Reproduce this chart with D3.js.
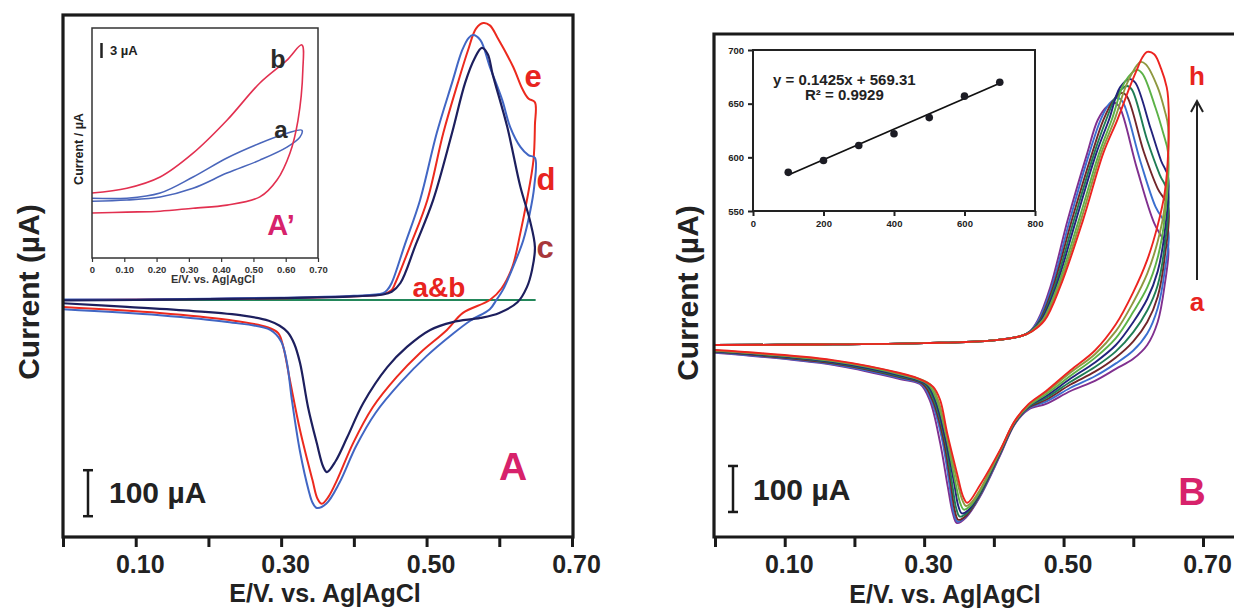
<!DOCTYPE html>
<html><head><meta charset="utf-8">
<script src="https://cdn.jsdelivr.net/npm/d3@7"></script>
<style>
body{margin:0;background:#fff}
svg{display:block}
text{font-family:"Liberation Sans",Arial,sans-serif;font-weight:bold}
</style>
</head><body>
<svg id="c" width="1234" height="609"></svg>
<script>
// ---------------- DATA ----------------
const mainTicks = [0, 0.1, 0.2, 0.3, 0.4, 0.5, 0.6, 0.7];
const mainTickLabels = ["", "0.10", "", "0.30", "", "0.50", "", "0.70"];
const insetATicks = [0, 0.1, 0.2, 0.3, 0.4, 0.5, 0.6, 0.7];
const insetATickLabels = ["0", "0.10", "0.20", "0.30", "0.40", "0.50", "0.60", "0.70"];
const insetBxTicks = [0, 200, 400, 600, 800];
const insetByTicks = [550, 600, 650, 700];

// Panel A : E (V) vs I (µA)
const curveA_ab = [[0,0],[0.65,0]];
const curveA_c = [[0,-1],[0.1,0],[0.2,2],[0.3,4],[0.4,8],[0.44,12],[0.452,18],[0.464,37],[0.485,120],[0.509,217],[0.535,363],[0.553,472],[0.566,525],[0.576,548],[0.584,535],[0.591,490],[0.611,376],[0.629,246],[0.642,174],[0.649,115],[0.645,65],[0.638,28],[0.625,-5],[0.60,-28],[0.574,-39],[0.536,-48],[0.505,-65],[0.473,-102],[0.446,-146],[0.413,-224],[0.391,-298],[0.375,-350],[0.363,-374],[0.358,-363],[0.349,-311],[0.337,-233],[0.326,-137],[0.318,-95],[0.309,-70],[0.298,-56],[0.283,-45],[0.248,-34],[0.179,-24],[0.088,-15],[0,-7]];
const curveA_d = [[0,1],[0.1,1],[0.2,3],[0.3,5],[0.4,9],[0.44,15],[0.446,22],[0.452,37],[0.470,120],[0.491,217],[0.514,363],[0.535,472],[0.549,543],[0.558,570],[0.564,576],[0.574,565],[0.587,507],[0.604,435],[0.615,376],[0.629,333],[0.640,315],[0.649,309],[0.648,246],[0.642,189],[0.633,130],[0.619,72],[0.605,22],[0.596,0],[0.587,-20],[0.560,-45],[0.535,-75],[0.500,-122],[0.465,-178],[0.430,-245],[0.403,-318],[0.380,-398],[0.362,-443],[0.349,-452],[0.343,-440],[0.338,-415],[0.326,-330],[0.315,-220],[0.308,-137],[0.300,-90],[0.285,-65],[0.226,-48],[0.133,-33],[0,-20]];
const curveA_e = [[0,0],[0.1,1],[0.2,2],[0.3,4],[0.4,8],[0.44,13],[0.452,22],[0.457,37],[0.478,120],[0.501,217],[0.523,363],[0.543,472],[0.557,543],[0.568,590],[0.578,602],[0.587,597],[0.597,572],[0.619,507],[0.632,458],[0.640,438],[0.649,430],[0.649,380],[0.647,304],[0.638,217],[0.629,146],[0.618,72],[0.603,25],[0.587,0],[0.550,-28],[0.528,-65],[0.491,-115],[0.459,-167],[0.426,-233],[0.399,-311],[0.377,-391],[0.365,-428],[0.356,-443],[0.350,-432],[0.343,-391],[0.326,-283],[0.312,-174],[0.303,-102],[0.296,-72],[0.281,-59],[0.226,-43],[0.133,-28],[0,-15]];

// Inset A' : E (V) vs I (µA)
const insetA_a = [[0,3.2],[0.108,3.2],[0.211,4.4],[0.313,8.1],[0.418,12.5],[0.520,15.9],[0.604,18.2],[0.650,18.9],[0.644,17.3],[0.604,15.0],[0.520,12.0],[0.418,9.0],[0.313,5.5],[0.211,3.5],[0.108,2.8],[0,2.5]];
const insetA_b = [[0,4.4],[0.108,5.5],[0.211,8.1],[0.313,13.6],[0.418,21.2],[0.520,29.8],[0.604,35.1],[0.650,38.6],[0.653,32.8],[0.638,21.2],[0.613,13.6],[0.573,7.4],[0.520,3.5],[0.418,1.6],[0.313,0.9],[0.211,0.2],[0.108,0],[0,-0.2]];

// Panel B : E (V) vs I (µA), scan rates a..h
const forwardB = [[0,0],[0.15,1],[0.3,4],[0.4,10],[0.44,20]];
const curveB_a = [[0.452,30],[0.463,54],[0.481,126],[0.506,272],[0.534,417],[0.549,489],[0.562,518],[0.574,526],[0.581,515],[0.605,385],[0.630,265],[0.645,225],[0.650,213],[0.645,130],[0.635,50],[0.620,0],[0.600,-30],[0.575,-52],[0.545,-78],[0.510,-100],[0.475,-128],[0.450,-140],[0.430,-172],[0.409,-240],[0.380,-330],[0.360,-375],[0.347,-387],[0.341,-365],[0.334,-309],[0.323,-213],[0.308,-120],[0.294,-85],[0.265,-74],[0.169,-43],[0,-17]];
const curveB_b = [[0.452,30],[0.464,54],[0.483,126],[0.509,272],[0.537,417],[0.553,489],[0.566,525],[0.578,537],[0.585,528],[0.610,400],[0.632,300],[0.650,250],[0.645,160],[0.635,80],[0.620,25],[0.600,-12],[0.575,-40],[0.545,-68],[0.510,-93],[0.475,-123],[0.450,-138],[0.430,-171],[0.409,-238],[0.380,-328],[0.360,-373],[0.348,-384],[0.342,-362],[0.336,-300],[0.325,-200],[0.310,-120],[0.296,-85],[0.265,-72],[0.169,-42],[0,-16]];
const curveB_c = [[0.453,30],[0.466,54],[0.485,126],[0.512,272],[0.541,417],[0.557,489],[0.572,533],[0.584,548],[0.591,540],[0.615,420],[0.635,340],[0.650,300],[0.645,190],[0.635,105],[0.620,50],[0.600,8],[0.575,-27],[0.545,-58],[0.510,-86],[0.475,-119],[0.450,-136],[0.430,-170],[0.409,-236],[0.380,-326],[0.361,-370],[0.349,-380],[0.344,-360],[0.338,-300],[0.327,-200],[0.312,-120],[0.298,-85],[0.265,-70],[0.169,-40],[0,-15]];
const curveB_d = [[0.453,30],[0.467,54],[0.487,126],[0.515,272],[0.544,417],[0.561,489],[0.577,545],[0.591,563],[0.598,555],[0.620,445],[0.638,370],[0.650,330],[0.645,215],[0.635,130],[0.620,75],[0.600,28],[0.575,-14],[0.545,-48],[0.510,-80],[0.475,-115],[0.450,-134],[0.430,-169],[0.409,-234],[0.380,-324],[0.362,-364],[0.351,-373],[0.346,-355],[0.340,-300],[0.329,-200],[0.314,-120],[0.301,-85],[0.265,-68],[0.169,-38],[0,-14]];
const curveB_e = [[0.454,30],[0.468,54],[0.489,126],[0.518,272],[0.547,417],[0.565,489],[0.581,560],[0.595,578],[0.603,570],[0.625,470],[0.640,400],[0.650,365],[0.645,245],[0.635,160],[0.620,100],[0.600,50],[0.575,0],[0.545,-38],[0.510,-73],[0.475,-111],[0.450,-133],[0.430,-168],[0.409,-233],[0.380,-322],[0.364,-358],[0.354,-366],[0.349,-350],[0.343,-300],[0.330,-200],[0.316,-120],[0.303,-85],[0.265,-66],[0.169,-37],[0,-13]];
const curveB_f = [[0.454,30],[0.470,54],[0.491,126],[0.522,272],[0.551,417],[0.569,489],[0.588,572],[0.605,598],[0.613,590],[0.632,515],[0.643,460],[0.650,417],[0.645,275],[0.635,190],[0.620,125],[0.600,72],[0.575,15],[0.545,-28],[0.510,-67],[0.475,-107],[0.450,-132],[0.430,-167],[0.409,-231],[0.380,-319],[0.366,-350],[0.357,-358],[0.352,-345],[0.345,-300],[0.332,-200],[0.318,-120],[0.305,-85],[0.265,-64],[0.169,-35],[0,-12]];
const curveB_g = [[0.455,30],[0.471,54],[0.493,126],[0.525,272],[0.554,417],[0.573,489],[0.592,572],[0.610,615],[0.618,610],[0.635,560],[0.645,510],[0.650,474],[0.645,300],[0.635,225],[0.620,155],[0.600,93],[0.575,30],[0.545,-20],[0.510,-60],[0.475,-103],[0.450,-130],[0.430,-166],[0.409,-230],[0.380,-315],[0.368,-342],[0.360,-350],[0.355,-338],[0.348,-300],[0.333,-200],[0.320,-120],[0.308,-85],[0.265,-62],[0.169,-34],[0,-12]];
const curveB_h = [[0.455,30],[0.473,54],[0.495,126],[0.528,272],[0.557,417],[0.577,489],[0.595,561],[0.605,598],[0.613,625],[0.620,637],[0.630,632],[0.640,600],[0.648,560],[0.650,537],[0.650,417],[0.645,330],[0.635,260],[0.620,185],[0.600,115],[0.575,45],[0.545,-12],[0.510,-55],[0.475,-100],[0.450,-128],[0.430,-165],[0.409,-228],[0.380,-305],[0.362,-343],[0.356,-330],[0.347,-278],[0.333,-191],[0.323,-120],[0.313,-91],[0.290,-72],[0.265,-61],[0.169,-33],[0,-11]];

// Inset B : peak current vs scan rate
const scanRates = [100, 200, 300, 400, 500, 600, 700];
const peakCurrents = [586, 597, 611, 622, 637, 657, 670];
const fitSlope = 0.1425, fitIntercept = 569.31;

// ---------------- DRAW ----------------
const svg = d3.select("#c");
const INK = "#1a1a1a";
const MAG = "#d7226b";
const RED = "#e8241f";

function lineFn(x, y) {
  return d3.line().x(d => x(d[0])).y(d => y(d[1])).curve(d3.curveCatmullRom.alpha(0.5));
}
function drawCurve(g, data, x, y, color, w) {
  g.append("path").attr("d", lineFn(x, y)(data)).attr("fill", "none")
   .attr("stroke", color).attr("stroke-width", w).attr("stroke-linejoin", "round");
}
function mainAxis(g, x, yPos) {
  const ax = d3.axisBottom(x).tickValues(mainTicks).tickSize(10).tickSizeOuter(0).tickPadding(8)
    .tickFormat((d, i) => mainTickLabels[i]);
  const a = g.append("g").attr("transform", `translate(0,${yPos})`).call(ax);
  a.select(".domain").remove();
  a.selectAll(".tick line").attr("stroke", INK).attr("stroke-width", 3);
  a.selectAll(".tick text").attr("font-size", 25).attr("fill", "#222").attr("dx", 4)
    .style("font-family", '"Liberation Sans",Arial,sans-serif').style("font-weight", "bold");
}
function scaleBar(g, xPos, y, lo, hi, tx, ty) {
  g.append("line").attr("x1", xPos).attr("x2", xPos).attr("y1", y(lo)).attr("y2", y(hi)).attr("stroke", INK).attr("stroke-width", 2.5);
  [lo, hi].forEach(v => g.append("line").attr("x1", xPos - 5).attr("x2", xPos + 5).attr("y1", y(v)).attr("y2", y(v)).attr("stroke", INK).attr("stroke-width", 2.5));
  g.append("text").attr("x", tx).attr("y", ty).attr("font-size", 30).attr("fill", "#222").text("100 µA");
}

// ===== Panel A =====
const gA = svg.append("g");
const xA = d3.scaleLinear().domain([0, 0.7]).range([63, 572]);
const yA = d3.scaleLinear().domain([-515.2, 619.6]).range([537, 15]);

drawCurve(gA, curveA_ab, xA, yA, "#23875a", 2.2);
drawCurve(gA, curveA_e, xA, yA, "#ec2a1e", 2);
drawCurve(gA, curveA_d, xA, yA, "#4166c4", 2);
drawCurve(gA, curveA_c, xA, yA, "#1d1f5e", 2.2);

gA.append("rect").attr("x", 63).attr("y", 15).attr("width", 510).attr("height", 522)
  .attr("fill", "none").attr("stroke", INK).attr("stroke-width", 3.2);
mainAxis(gA, xA, 537);

gA.append("text").attr("transform", "translate(39,292) rotate(-90)").attr("text-anchor", "middle")
  .attr("font-size", 30).attr("fill", "#222").text("Current (µA)");
gA.append("text").attr("x", 325).attr("y", 602).attr("text-anchor", "middle")
  .attr("font-size", 25).attr("fill", "#222").text("E/V. vs. Ag|AgCl");

scaleBar(gA, 88, yA, -470, -370, 109, 503);

gA.append("text").attr("x", 533).attr("y", 87).attr("text-anchor", "middle").attr("font-size", 31).attr("fill", RED).text("e");
gA.append("text").attr("x", 546).attr("y", 190).attr("text-anchor", "middle").attr("font-size", 31).attr("fill", RED).text("d");
gA.append("text").attr("x", 545).attr("y", 258).attr("text-anchor", "middle").attr("font-size", 31).attr("fill", "#a8373a").text("c");
gA.append("text").attr("x", 439).attr("y", 297).attr("text-anchor", "middle").attr("font-size", 28).attr("fill", RED).text("a&b");
gA.append("text").attr("x", 513).attr("y", 480).attr("text-anchor", "middle").attr("font-size", 39).attr("fill", MAG).text("A");

// ----- Inset A' -----
const gI = svg.append("g");
const xI = d3.scaleLinear().domain([0, 0.7]).range([92, 318]);
const yI = d3.scaleLinear().domain([-10.6, 42.5]).range([258, 28]);
drawCurve(gI, insetA_a, xI, yI, "#4a66bb", 1.6);
drawCurve(gI, insetA_b, xI, yI, "#e23050", 1.6);
gI.append("rect").attr("x", 92).attr("y", 28).attr("width", 226).attr("height", 230)
  .attr("fill", "none").attr("stroke", "#333").attr("stroke-width", 1.5);
const axI = d3.axisBottom(xI).tickValues(insetATicks).tickSize(4).tickSizeOuter(0).tickPadding(4)
  .tickFormat((d, i) => insetATickLabels[i]);
const aI = gI.append("g").attr("transform", "translate(0,258)").call(axI);
aI.select(".domain").remove();
aI.selectAll(".tick line").attr("stroke", "#333").attr("stroke-width", 1.2);
aI.selectAll(".tick text").attr("font-size", 9.5).attr("fill", "#333")
  .style("font-family", '"Liberation Sans",Arial,sans-serif').style("font-weight", "bold");
gI.append("text").attr("x", 213).attr("y", 283).attr("text-anchor", "middle").attr("font-size", 11).attr("fill", "#333").text("E/V. vs. Ag|AgCl");
gI.append("text").attr("transform", "translate(83,149) rotate(-90)").attr("text-anchor", "middle")
  .attr("font-size", 12.5).attr("fill", "#222").text("Current / µA");
gI.append("line").attr("x1", 101.5).attr("x2", 101.5).attr("y1", 43).attr("y2", 58).attr("stroke", "#222").attr("stroke-width", 2.5);
gI.append("text").attr("x", 110).attr("y", 55).attr("font-size", 13).attr("fill", "#222").text("3 µA");
gI.append("text").attr("x", 278).attr("y", 68).attr("text-anchor", "middle").attr("font-size", 25).attr("fill", "#2a2a2a").text("b");
gI.append("text").attr("x", 281).attr("y", 138).attr("text-anchor", "middle").attr("font-size", 24).attr("fill", "#2a2a2a").text("a");
gI.append("text").attr("x", 281).attr("y", 235).attr("text-anchor", "middle").attr("font-size", 29).attr("fill", MAG).text("A’");

// ===== Panel B =====
const gB = svg.append("g");
const xB = d3.scaleLinear().domain([0, 0.7]).range([715, 1203]);
const yB = d3.scaleLinear().domain([-417.4, 676]).range([537, 34]);
const curvesB = [curveB_a, curveB_b, curveB_c, curveB_d, curveB_e, curveB_f, curveB_g, curveB_h];
const colorsB = ["#80308f", "#3b6fcf", "#72262a", "#1f7d55", "#23237c", "#5cb247", "#8f9840", "#ec2420"];
curvesB.forEach((c, i) => drawCurve(gB, forwardB.concat(c), xB, yB, colorsB[i], 1.9));

gB.append("path").attr("d", "M1250,34 H714 V537 H1250").attr("fill", "none").attr("stroke", INK).attr("stroke-width", 3.2);
mainAxis(gB, xB, 537);
gB.append("text").attr("transform", "translate(698,293) rotate(-90)").attr("text-anchor", "middle")
  .attr("font-size", 30).attr("fill", "#222").text("Current (µA)");
gB.append("text").attr("x", 945).attr("y", 603).attr("text-anchor", "middle")
  .attr("font-size", 25).attr("fill", "#222").text("E/V. vs. Ag|AgCl");
scaleBar(gB, 733, yB, -363, -263, 753, 500);
gB.append("text").attr("x", 1192).attr("y", 505).attr("text-anchor", "middle").attr("font-size", 38).attr("fill", MAG).text("B");
gB.append("text").attr("x", 1197).attr("y", 85).attr("text-anchor", "middle").attr("font-size", 26).attr("fill", RED).text("h");
gB.append("text").attr("x", 1197).attr("y", 311).attr("text-anchor", "middle").attr("font-size", 26).attr("fill", RED).text("a");
gB.append("line").attr("x1", 1197).attr("x2", 1197).attr("y1", 280).attr("y2", 103).attr("stroke", "#222").attr("stroke-width", 2);
gB.append("path").attr("d", "M1191,112 L1197,101 L1203,112").attr("fill", "none").attr("stroke", "#222").attr("stroke-width", 2);

// ----- Inset B -----
const gS = svg.append("g");
const xS = d3.scaleLinear().domain([0, 800]).range([753, 1035]);
const yS = d3.scaleLinear().domain([550, 700]).range([211, 50]);
gS.append("rect").attr("x", 753).attr("y", 50).attr("width", 282).attr("height", 161).attr("fill", "#fff").attr("stroke", "#222").attr("stroke-width", 2);
const axSx = d3.axisBottom(xS).tickValues(insetBxTicks).tickSize(5).tickSizeOuter(0).tickPadding(4);
const aSx = gS.append("g").attr("transform", "translate(0,211)").call(axSx);
const axSy = d3.axisLeft(yS).tickValues(insetByTicks).tickSize(5).tickSizeOuter(0).tickPadding(4);
const aSy = gS.append("g").attr("transform", "translate(753,0)").call(axSy);
[aSx, aSy].forEach(a => {
  a.select(".domain").remove();
  a.selectAll(".tick line").attr("stroke", "#222").attr("stroke-width", 2);
  a.selectAll(".tick text").attr("font-size", 9.5).attr("fill", "#222")
    .style("font-family", '"Liberation Sans",Arial,sans-serif').style("font-weight", "bold");
});
const fitLine = [scanRates[0], scanRates[scanRates.length - 1]].map(r => [r, fitSlope * r + fitIntercept]);
gS.append("path").attr("d", d3.line().x(d => xS(d[0])).y(d => yS(d[1]))(fitLine)).attr("stroke", "#111").attr("stroke-width", 1.8).attr("fill", "none");
gS.selectAll("circle.pt").data(scanRates).join("circle").attr("class", "pt")
  .attr("cx", d => xS(d)).attr("cy", (d, i) => yS(peakCurrents[i])).attr("r", 3.8).attr("fill", "#1c1c24");
gS.append("text").attr("x", 773).attr("y", 85).attr("font-size", 15).attr("fill", "#222").text("y = 0.1425x + 569.31");
gS.append("text").attr("x", 805).attr("y", 100).attr("font-size", 15).attr("fill", "#222").text("R² = 0.9929");
</script>
</body></html>
